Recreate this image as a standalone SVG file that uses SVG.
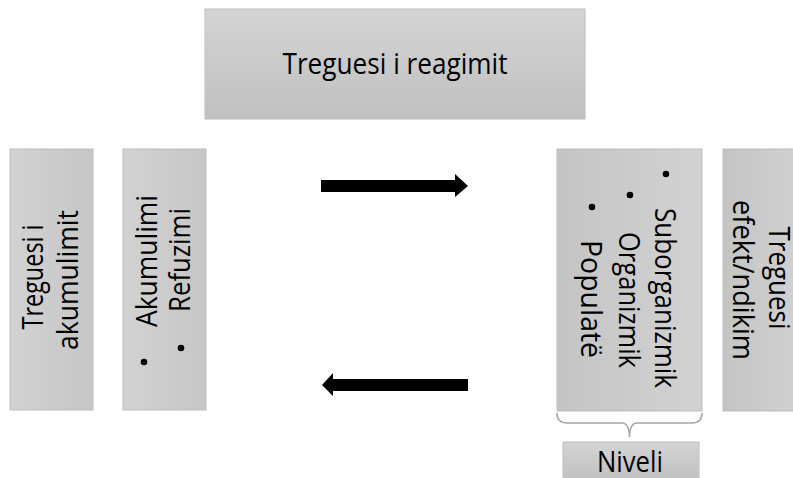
<svg xmlns="http://www.w3.org/2000/svg" width="793" height="478" viewBox="0 0 793 478">
<defs>
<linearGradient id="gv" x1="0" y1="0" x2="0" y2="1"><stop offset="0" stop-color="#d4d4d4"/><stop offset="1" stop-color="#c0c0c0"/></linearGradient>
<linearGradient id="gl" x1="0" y1="0" x2="1" y2="0"><stop offset="0" stop-color="#d2d2d2"/><stop offset="1" stop-color="#c6c6c6"/></linearGradient>
<linearGradient id="gr" x1="1" y1="0" x2="0" y2="0"><stop offset="0" stop-color="#d2d2d2"/><stop offset="1" stop-color="#c4c4c4"/></linearGradient>
<style>
.box{stroke:#bdbdbd;stroke-width:1}
.t{font-family:"Open Sans","Liberation Sans",sans-serif;font-size:29px;fill:#000;text-anchor:middle}
.arrow{fill:#000}
.brace{fill:none;stroke:#a6a6a6;stroke-width:1.5}
</style>
</defs>
<g id="reagimit">
<rect class="box" x="205" y="9" width="380" height="110" fill="url(#gv)"/>
<text class="t" x="395" y="74" textLength="225" lengthAdjust="spacingAndGlyphs">Treguesi i reagimit</text>
</g>
<g id="akumulimit">
<rect class="box" x="10" y="149" width="83" height="261" fill="url(#gl)"/>
<text class="t" transform="translate(43,277) rotate(-90)" textLength="105" lengthAdjust="spacingAndGlyphs">Treguesi i</text>
<text class="t" transform="translate(78,280) rotate(-90)" textLength="140" lengthAdjust="spacingAndGlyphs">akumulimit</text>
</g>
<g id="proceset">
<rect class="box" x="123" y="149" width="83" height="261" fill="url(#gl)"/>
<circle cx="144" cy="362" r="3.3"/>
<text class="t" transform="translate(157,261) rotate(-90)" textLength="132" lengthAdjust="spacingAndGlyphs">Akumulimi</text>
<circle cx="181" cy="348" r="3.3"/>
<text class="t" transform="translate(190,260) rotate(-90)" textLength="104" lengthAdjust="spacingAndGlyphs">Refuzimi</text>
</g>
<g id="nivelet">
<rect class="box" x="557" y="149" width="145" height="262" fill="url(#gr)"/>
<circle cx="666" cy="174" r="3.3"/>
<text class="t" transform="translate(655,298) rotate(90)" textLength="180" lengthAdjust="spacingAndGlyphs">Suborganizmik</text>
<circle cx="630" cy="195" r="3.3"/>
<text class="t" transform="translate(619,300) rotate(90)" textLength="136" lengthAdjust="spacingAndGlyphs">Organizmik</text>
<circle cx="592" cy="207" r="3.3"/>
<text class="t" transform="translate(581,299) rotate(90)" textLength="118" lengthAdjust="spacingAndGlyphs">Populatë</text>
</g>
<g id="efekt">
<rect class="box" x="723" y="149" width="83" height="262" fill="url(#gr)"/>
<text class="t" transform="translate(769,278) rotate(90)" textLength="103" lengthAdjust="spacingAndGlyphs">Treguesi</text>
<text class="t" transform="translate(733,280) rotate(90)" textLength="160" lengthAdjust="spacingAndGlyphs">efekt/ndikim</text>
</g>
<g id="niveli">
<rect class="box" x="563" y="442" width="136" height="40" fill="url(#gv)"/>
<text class="t" x="630" y="472" textLength="66" lengthAdjust="spacingAndGlyphs">Niveli</text>
</g>
<g id="connectors">
<polygon class="arrow" points="321,180 455,180 455,174 468,186 455,197 455,192 321,192"/>
<polygon class="arrow" points="468,379 333,379 333,373 322,385 333,396 333,391 468,391"/>
<path class="brace" d="M557,413 Q557,423 567,423 L622,423 Q629,423 629.5,437 Q630,423 637,423 L692,423 Q702,423 702,413"/>
</g>
</svg>
